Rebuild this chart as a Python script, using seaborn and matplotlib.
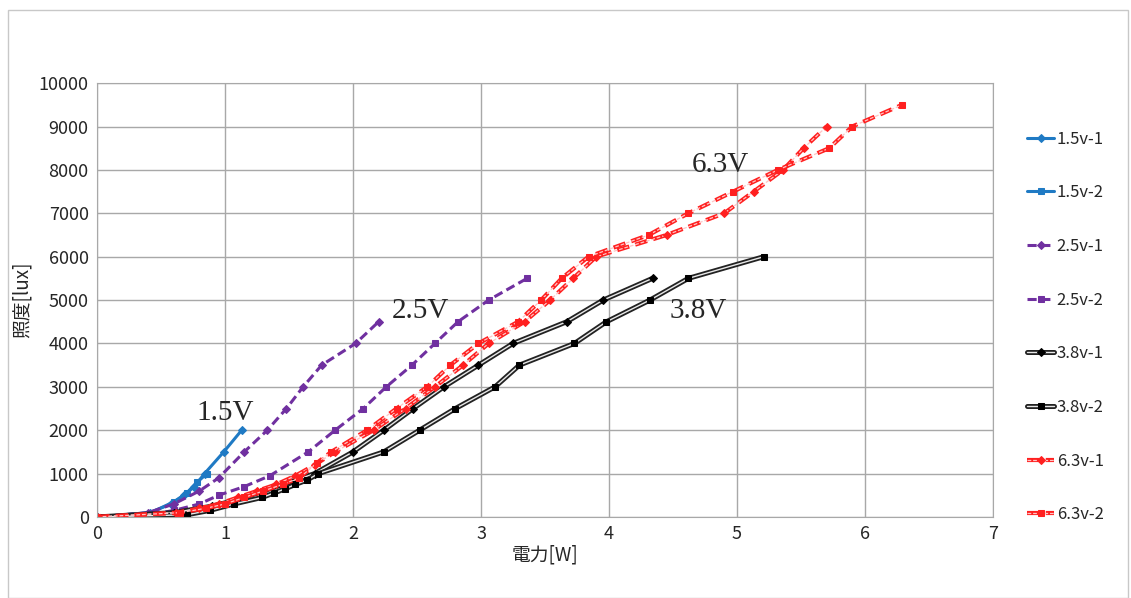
import matplotlib
matplotlib.use("Agg")
import matplotlib.pyplot as plt
from matplotlib.patches import Rectangle
from matplotlib.legend_handler import HandlerTuple
import seaborn as sns

# data: power [W] vs illuminance [lux]
x_15_1 = [0, 0.41, 0.58, 0.68, 0.76, 0.84, 0.99, 1.13]
y_15_1 = [0, 100, 300, 500, 700, 1000, 1500, 2000]
x_15_2 = [0, 0.42, 0.60, 0.70, 0.78, 0.86]
y_15_2 = [0, 100, 350, 550, 800, 1000]

x_25_1 = [0, 0.40, 0.60, 0.80, 0.95, 1.15, 1.33, 1.48, 1.61, 1.755, 2.02, 2.20]
y_25_1 = [0, 100, 300, 600, 900, 1500, 2000, 2500, 3000, 3500, 4000, 4500]
x_25_2 = [0, 0.40, 0.60, 0.80, 0.95, 1.15, 1.35, 1.65, 1.86, 2.08, 2.26, 2.46, 2.64, 2.82, 3.06, 3.36]
y_25_2 = [0, 50, 150, 300, 500, 700, 950, 1500, 2000, 2500, 3000, 3500, 4000, 4500, 5000, 5500]

x_38_1 = [0, 0.60, 0.90, 1.10, 1.30, 1.50, 1.70, 2.00, 2.24, 2.47, 2.71, 2.98, 3.25, 3.67, 3.955, 4.34]
y_38_1 = [0, 100, 250, 400, 600, 800, 1000, 1500, 2000, 2500, 3000, 3500, 4000, 4500, 5000, 5500]
x_38_2 = [0, 0.70, 0.88, 1.07, 1.29, 1.38, 1.47, 1.55, 1.64, 1.73, 2.24, 2.52, 2.80, 3.11, 3.30, 3.73, 3.98, 4.32, 4.62, 5.21]
y_38_2 = [0, 50, 150, 300, 450, 550, 650, 750, 850, 1000, 1500, 2000, 2500, 3000, 3500, 4000, 4500, 5000, 5500, 6000]

x_63_1 = [0, 0.62, 0.80, 0.95, 1.10, 1.25, 1.40, 1.55, 1.70, 1.86, 2.16, 2.41, 2.64, 2.86, 3.06, 3.34, 3.54, 3.72, 3.90,
          4.45, 4.90, 5.13, 5.36, 5.52, 5.70]
y_63_1 = [0, 100, 200, 300, 450, 600, 750, 950, 1200, 1500, 2000, 2500, 3000, 3500, 4000, 4500, 5000, 5500, 6000,
          6500, 7000, 7500, 8000, 8500, 9000]
x_63_2 = [0, 0.65, 0.85, 1.00, 1.15, 1.30, 1.45, 1.58, 1.72, 1.83, 2.11, 2.34, 2.58, 2.76, 2.98, 3.29, 3.47, 3.63, 3.84,
          4.31, 4.62, 4.97, 5.32, 5.72, 5.90, 6.29]
y_63_2 = [0, 100, 200, 300, 450, 600, 750, 900, 1250, 1500, 2000, 2500, 3000, 3500, 4000, 4500, 5000, 5500, 6000,
          6500, 7000, 7500, 8000, 8500, 9000, 9500]

series_labels = ["1.5v-1", "1.5v-2", "2.5v-1", "2.5v-2", "3.8v-1", "3.8v-2", "6.3v-1", "6.3v-2"]
notes = ["1.5V", "2.5V", "3.8V", "6.3V"]
note_xy = [(0.78, 2235), (2.30, 4585), (4.47, 4585), (4.65, 7950)]

xs = [x_15_1, x_15_2, x_25_1, x_25_2, x_38_1, x_38_2, x_63_1, x_63_2]
ys = [y_15_1, y_15_2, y_25_1, y_25_2, y_38_1, y_38_2, y_63_1, y_63_2]

sns.set_style("white")
plt.rcParams['font.family'] = ['Noto Sans CJK JP', 'DejaVu Sans']

fig = plt.figure(figsize=(11.31, 5.98), dpi=100)
ax = fig.add_axes([0.0858, 0.1355, 0.7922, 0.7255])

blue = "#1f7ac4"
purple = "#7030a0"
red = "#ff2020"
dash = (0, (3, 1.5))

handles = []
for i, (xx, yy, lab) in enumerate(zip(xs, ys, series_labels)):
    mk, ms = ("D", 3.8) if i % 2 == 0 else ("s", 4.8)
    under = None
    if i < 2:
        kw = dict(color=blue, linewidth=2.2, linestyle="-")
        mcol = blue
    elif i < 4:
        kw = dict(color=purple, linewidth=2.2, linestyle=dash)
        mcol = purple
    elif i < 6:
        under = dict(color="#222222", linewidth=3.6, linestyle="-")
        kw = dict(color="#e8e8e8", linewidth=1.0, linestyle="-")
        mcol = "black"
    else:
        under = dict(color=red, linewidth=3.0, linestyle=dash)
        kw = dict(color="#ffc4c4", linewidth=0.9, linestyle=dash)
        mcol = red
    parts = []
    if under is not None:
        sns.lineplot(x=xx, y=yy, ax=ax, estimator=None, sort=False, **under)
        parts.append(ax.lines[-1])
    sns.lineplot(x=xx, y=yy, ax=ax, marker=mk, markersize=ms,
                 markerfacecolor=mcol, markeredgecolor=mcol, estimator=None,
                 sort=False, **kw)
    parts.append(ax.lines[-1])
    handles.append(tuple(parts))

for t, (px, py) in zip(notes, note_xy):
    ax.text(px, py, t, fontsize=21, family="Liberation Serif", ha="left", va="baseline")

ax.set_xlim(0, 7)
ax.set_ylim(0, 10000)
ax.set_xticks(range(0, 8))
ax.set_yticks(range(0, 10001, 1000))
ax.grid(True, color="#a8a8a8", linewidth=1.0)
for s in ax.spines.values():
    s.set_color("#a8a8a8")
ax.tick_params(labelsize=13, length=0, pad=6)
ax.set_xlabel("電力[W]", fontsize=13.5, labelpad=1)
ax.set_ylabel("照度[lux]", fontsize=13.5, labelpad=4)

ax.legend(handles, series_labels, handler_map={tuple: HandlerTuple(ndivide=1, pad=0)},
          loc="upper left", bbox_to_anchor=(1.031, 0.906), frameon=False,
          fontsize=12, labelspacing=2.2, handlelength=1.6, handletextpad=0.15,
          borderaxespad=0)

fig.add_artist(Rectangle((0.007, 0.0), 0.99, 0.983, transform=fig.transFigure,
                         fill=False, edgecolor="#c8c8c8", linewidth=1.0))

fig.savefig("out.png", dpi=100)
